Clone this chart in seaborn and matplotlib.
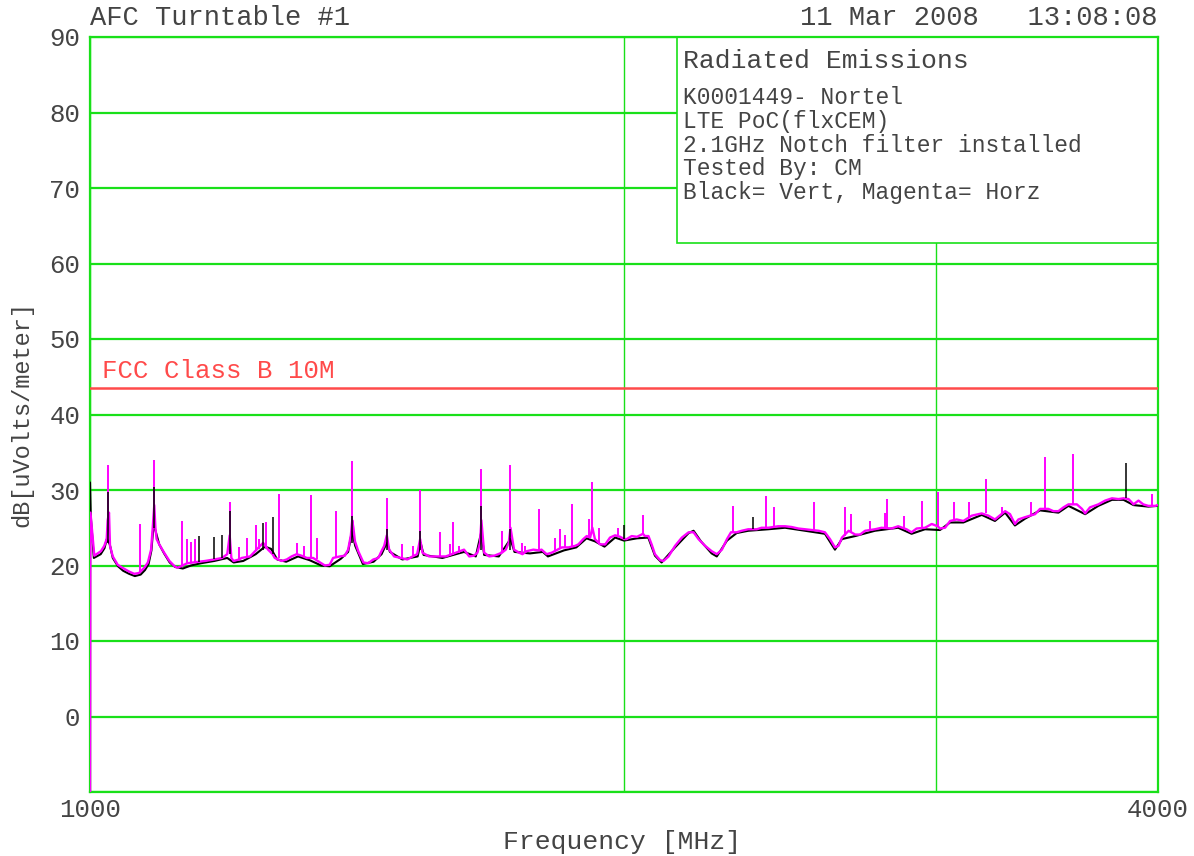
import matplotlib
matplotlib.use("Agg")
import matplotlib.pyplot as plt
import pandas as pd
import seaborn as sns
from matplotlib.patches import Rectangle
from matplotlib.ticker import FixedLocator, NullLocator, FixedFormatter

# ---------------- data ----------------
# Horizontal polarisation (magenta) background trace: (MHz, dBuV/m)
horz_trace = [
    (1000, -15), (1000.6, 27), (1005.6, 21.3), (1014.3, 21.9), (1018.7, 22.6), (1021.9, 23.5),
    (1023.2, 26), (1025.0, 27), (1026.3, 22.6), (1030, 21.2), (1036.6, 20.1), (1043, 19.7),
    (1052, 19.2), (1059, 18.9), (1065.5, 19.0), (1073, 19.7), (1078, 20.4), (1082.5, 22.1),
    (1084.8, 25), (1087, 28), (1088.6, 25), (1090.3, 23.5), (1094, 22.8), (1101, 21.7),
    (1108.6, 20.6), (1116, 19.9), (1120.5, 19.7), (1134.5, 20.3), (1152, 20.5), (1161, 20.6),
    (1175, 20.8), (1187, 21.0), (1195, 21.5), (1198.8, 24), (1201.4, 21), (1204.8, 20.6),
    (1213.5, 20.8), (1217.6, 21.0), (1231, 21.2), (1239, 21.9), (1246, 22.5), (1252, 23.0),
    (1260, 22.1), (1267.5, 21.5), (1271, 21.0), (1282.6, 20.6), (1291, 20.8), (1299, 21.2),
    (1307.6, 21.5), (1316, 21.3), (1325, 21.0), (1336, 21.0), (1348, 20.4), (1356.6, 20.0),
    (1365, 20.1), (1371, 21.0), (1383, 21.2), (1392, 21.3), (1398, 22.1), (1403, 24),
    (1405.5, 26), (1407.6, 25), (1410.5, 23.2), (1416.5, 21.9), (1426, 20.4), (1435, 20.3),
    (1444.5, 20.8), (1454, 21.0), (1458.5, 21.7), (1465, 22.6), (1470, 24), (1474.5, 22.1),
    (1484, 21.2), (1496.5, 21.0), (1509.7, 20.8), (1520, 21.2), (1529, 21.5), (1535, 23.5),
    (1539.6, 21.7), (1553, 21.2), (1567, 21.2), (1587, 21.2), (1608, 21.7), (1625, 22.1),
    (1636, 21.2), (1646, 21.3), (1653.5, 21.7), (1659, 23), (1662, 26), (1668, 21.7),
    (1679, 21.2), (1690, 21.3), (1707, 21.7), (1715.5, 22.1), (1722, 23), (1726, 25),
    (1734, 22.1), (1745.5, 21.7), (1753, 21.5), (1763, 21.9), (1778, 22.1), (1791, 22.0),
    (1797, 22.1), (1809, 21.5), (1821, 21.7), (1845, 22.4), (1861, 22.4), (1877, 22.6),
    (1885, 22.8), (1897, 23.5), (1905.5, 23.9), (1914, 23.7), (1919.5, 25), (1926, 23.5),
    (1939, 22.8), (1952, 22.8), (1964, 23.7), (1977, 24.0), (1990, 23.8), (2000.5, 23.5),
    (2007, 23.5), (2020, 23.9), (2034, 23.8), (2050, 24.2), (2055, 23.9), (2064.5, 23.9),
    (2073, 22.8), (2082, 21.5), (2096, 20.7), (2105, 20.6), (2119, 21.2), (2137, 22.6),
    (2156, 23.7), (2175, 24.4), (2189, 24.4), (2203, 23.5), (2222, 22.6), (2241, 21.9),
    (2256, 21.5), (2271, 22.1), (2286, 23.5), (2298, 24.4), (2315, 24.4), (2330, 24.6),
    (2350, 24.8), (2376, 24.8), (2391, 25.0), (2412, 25.0), (2443, 25.2), (2465, 25.2),
    (2486, 25.1), (2508, 24.9), (2530, 24.8), (2575, 24.6), (2596, 24.4), (2613, 23.5),
    (2630, 22.4), (2642, 22.6), (2654, 23.7), (2677, 24.6), (2700, 24.1), (2717, 24.1),
    (2735, 24.6), (2770, 24.8), (2794, 25.0), (2830, 24.9), (2855, 25.2), (2886, 24.8),
    (2905, 24.4), (2924, 24.9), (2956, 25.0), (2982, 25.5), (3005, 25.2), (3014, 24.9),
    (3034, 25.0), (3054, 25.9), (3080, 26.1), (3107, 25.9), (3141, 26.6), (3168, 26.8),
    (3182, 26.9), (3210, 26.6), (3237, 26.1), (3280, 27.2), (3301, 26.8), (3322, 25.5),
    (3337, 26.1), (3366, 26.4), (3410, 26.8), (3432, 27.5), (3469, 27.5), (3492, 27.2),
    (3515, 27.2), (3538, 27.7), (3561, 28.1), (3600, 28.1), (3624, 27.5), (3639, 26.9),
    (3662, 27.7), (3702, 28.1), (3735, 28.6), (3768, 28.9), (3800, 28.8), (3825, 28.9),
    (3850, 28.8), (3875, 28.1), (3900, 28.6), (3924, 28.1), (3950, 27.9), (3985, 27.9),
    (4000, 28.0),
]

# Vertical polarisation (black) background trace: (MHz, dBuV/m)
vert_trace = [
    (1000, 31.0), (1001, 26.5), (1005, 21.0), (1014, 21.5), (1019, 22.3), (1022, 23.5),
    (1026, 22.8), (1030, 21.0), (1037, 19.9), (1044, 19.3), (1052, 18.9), (1060, 18.6),
    (1068, 18.8), (1074, 19.4), (1079, 20.2), (1083, 22.0), (1086, 25.5), (1089, 24.5),
    (1094, 22.8), (1101, 21.6), (1109, 20.4), (1117, 19.8), (1128, 19.6), (1140, 20.0),
    (1155, 20.3), (1175, 20.6), (1195, 21.0), (1205, 20.4), (1220, 20.6), (1240, 21.5),
    (1255, 22.5), (1265, 22.2), (1275, 20.8), (1290, 20.5), (1310, 21.2), (1330, 20.7),
    (1350, 20.0), (1365, 19.9), (1385, 20.9), (1398, 21.8), (1405, 24.5), (1411, 22.6),
    (1425, 20.2), (1445, 20.5), (1460, 21.5), (1470, 23.0), (1476, 21.8), (1500, 20.8),
    (1530, 21.2), (1536, 23.0), (1542, 21.4), (1580, 21.0), (1625, 21.8), (1650, 21.2),
    (1662, 24.5), (1668, 21.4), (1700, 21.2), (1726, 23.5), (1735, 21.8), (1770, 21.6),
    (1800, 21.8), (1812, 21.2), (1850, 22.0), (1880, 22.4), (1905, 23.6), (1926, 23.2),
    (1950, 22.5), (1977, 23.7), (2000, 23.3), (2034, 23.6), (2064, 23.7), (2082, 21.3),
    (2100, 20.4), (2137, 22.4), (2175, 24.3), (2189, 24.6), (2210, 23.2), (2241, 21.6),
    (2256, 21.2), (2286, 23.3), (2315, 24.3), (2350, 24.6), (2412, 24.8), (2465, 25.0),
    (2530, 24.6), (2596, 24.2), (2630, 22.1), (2654, 23.5), (2700, 23.9), (2770, 24.6),
    (2855, 25.0), (2905, 24.2), (2956, 24.8), (3014, 24.7), (3054, 25.7), (3107, 25.7),
    (3182, 26.7), (3237, 25.9), (3280, 27.0), (3322, 25.3), (3366, 26.2), (3432, 27.3),
    (3515, 27.0), (3561, 27.9), (3639, 26.8), (3702, 27.9), (3768, 28.7), (3825, 28.7),
    (3875, 28.0), (3950, 27.8), (4000, 27.9),
]

# Narrow emission spikes: frequency (MHz), foot (dB), peak (dB)
horz_spike_freq = [1024, 1067.5, 1087, 1126.5, 1134.5, 1140.5, 1145.5, 1198.8, 1213.5, 1226,
                   1240.5, 1246, 1256.5, 1278, 1307.6, 1320, 1333, 1343.5, 1375.5, 1405.5,
                   1470, 1499.5, 1521.5, 1535, 1575, 1596, 1601, 1615, 1662, 1707,
                   1726, 1751.5, 1759, 1791, 1829, 1841, 1853, 1869, 1910, 1919.5,
                   1936.5, 1983.5, 2049.5, 2303, 2404.5, 2431, 2561, 2664.5, 2685.5, 2752,
                   2806, 2815, 2877, 2943.5, 3005, 3070, 3130, 3198, 3265, 3391,
                   3455, 3583, 3968]
horz_spike_foot = [26, 19.0, 26, 19.8, 20.3, 20.4, 20.4, 21.5, 20.8, 21.0,
                   21.9, 22.2, 22.2, 21.0, 21.5, 21.3, 21.0, 20.8, 21.0, 26,
                   24, 21.0, 21.2, 23, 21.2, 21.3, 21.4, 21.7, 25, 21.7,
                   25, 21.5, 21.6, 22.0, 21.8, 22.2, 22.3, 22.5, 23.9, 25,
                   23.0, 24.0, 24.2, 24.4, 25.0, 25.1, 24.7, 23.9, 24.4, 24.6,
                   25.0, 25.0, 24.9, 24.9, 25.2, 26.0, 26.3, 26.9, 27.0, 26.6,
                   27.5, 28.1, 27.9]
horz_spike_peak = [33.3, 25.5, 34.0, 25.9, 23.5, 23.1, 23.5, 28.4, 22.4, 23.6,
                   25.3, 23.5, 25.8, 29.5, 23.0, 22.6, 29.3, 23.7, 27.2, 33.8,
                   29.0, 22.8, 22.6, 30.0, 24.4, 22.8, 25.7, 22.6, 32.8, 24.6,
                   33.3, 23.0, 22.6, 27.5, 23.7, 24.8, 24.1, 28.1, 26.1, 31.1,
                   25.0, 25.0, 26.7, 27.9, 29.2, 27.7, 28.4, 27.7, 26.8, 25.9,
                   27.0, 28.8, 26.6, 28.6, 29.7, 28.4, 28.4, 31.5, 27.7, 28.4,
                   34.4, 34.8, 29.5]

vert_spike_freq = [1024, 1087, 1152, 1175, 1187, 1199, 1252, 1267.5, 1405.5, 1470,
                   1535, 1662, 1726, 2001, 2366, 3836]
vert_spike_foot = [23, 25, 20.5, 20.8, 21.0, 21.5, 22, 21.5, 23, 22,
                   22, 22, 22, 23.5, 24.8, 28.9]
vert_spike_peak = [29.7, 30.4, 23.9, 23.8, 24.1, 27.2, 25.6, 26.4, 26.6, 24.8,
                   24.6, 27.9, 24.8, 25.3, 26.4, 33.6]

limit_db = 43.5
limit_label = "FCC Class B 10M"
y_ticks = [-10, 0, 10, 20, 30, 40, 50, 60, 70, 80, 90]
y_tick_labels = ["", "0", "10", "20", "30", "40", "50", "60", "70", "80", "90"]
x_ticks = [1000, 2000, 3000, 4000]
x_tick_labels = ["1000", "", "", "4000"]
info_title = "Radiated Emissions"
info_lines = ["K0001449- Nortel", "LTE PoC(flxCEM)", "2.1GHz Notch filter installed",
              "Tested By: CM", "Black= Vert, Magenta= Horz"]
header_left = "AFC Turntable #1"
header_right = "11 Mar 2008   13:08:08"

# ---------------- styling ----------------
sns.set_style("white")
plt.rcParams["font.family"] = ["Liberation Mono", "DejaVu Sans Mono"]
GREEN = "#19e019"
TXT = "#444444"
MAG = "#ff00ff"
RED = "#ff4a4a"

W, H = 1194, 856
fig = plt.figure(figsize=(W / 100, H / 100), dpi=100)
ax = fig.add_axes([90 / W, 1 - 792 / H, 1068 / W, 755 / H])

df_h = pd.DataFrame(horz_trace, columns=["freq", "db"])
df_v = pd.DataFrame(vert_trace, columns=["freq", "db"])

sns.lineplot(data=df_v, x="freq", y="db", ax=ax, color="black", lw=1.5,
             estimator=None, sort=False, zorder=3)
sns.lineplot(data=df_h, x="freq", y="db", ax=ax, color=MAG, lw=1.7,
             estimator=None, sort=False, zorder=4)
ax.vlines(horz_spike_freq, horz_spike_foot, horz_spike_peak, color=MAG, lw=1.4, zorder=4)
ax.vlines(vert_spike_freq, vert_spike_foot, vert_spike_peak, color="black", lw=1.1, zorder=5)

ax.axhline(limit_db, color=RED, lw=1.8, zorder=3)
ax.text(1016, 45.7, limit_label, color=RED, fontsize=18.5, va="center", ha="left")

ax.set_xscale("log")
ax.set_xlim(1000, 4000)
ax.set_ylim(-10, 90)
ax.xaxis.set_major_locator(FixedLocator(x_ticks))
ax.xaxis.set_minor_locator(NullLocator())
ax.xaxis.set_major_formatter(FixedFormatter(x_tick_labels))
ax.set_yticks(y_ticks)
ax.set_yticklabels(y_tick_labels)
ax.tick_params(axis="both", length=0, labelsize=18.5, colors=TXT)
ax.tick_params(axis="x", pad=4)
ax.tick_params(axis="y", pad=7)
ax.set_xlabel("")
ax.set_ylabel("")

ax.set_axisbelow(True)
ax.grid(True, axis="y", color=GREEN, lw=1.6)
ax.grid(True, axis="x", color=GREEN, lw=1.0)
for s in ax.spines.values():
    s.set_color(GREEN)
    s.set_linewidth(1.6)

# annotation box (white panel with green border in the upper right)
box = Rectangle((0.5496, 0.727), 0.4504, 0.273, transform=ax.transAxes,
                facecolor="white", edgecolor=GREEN, lw=1.2, zorder=2)
ax.add_patch(box)

fig.text(683 / W, 1 - 61 / H, info_title, fontsize=19, color=TXT, va="center", ha="left")
for i, line in enumerate(info_lines):
    yy = [98, 121.5, 145, 168.5, 192.5][i]
    fig.text(683 / W, 1 - yy / H, line, fontsize=16.5, color=TXT, va="center", ha="left")

fig.text(90 / W, 1 - 18 / H, header_left, fontsize=19.5, color=TXT, va="center", ha="left")
fig.text(1158 / W, 1 - 18 / H, header_right, fontsize=19.5, color=TXT, va="center", ha="right")
fig.text(622 / W, 1 - 842 / H, "Frequency [MHz]", fontsize=19, color=TXT, va="center", ha="center")
fig.text(22 / W, 1 - 414 / H, "dB[uVolts/meter]", fontsize=17, color=TXT, va="center",
         ha="center", rotation=90)

fig.savefig("out.png", dpi=100, facecolor="white")
